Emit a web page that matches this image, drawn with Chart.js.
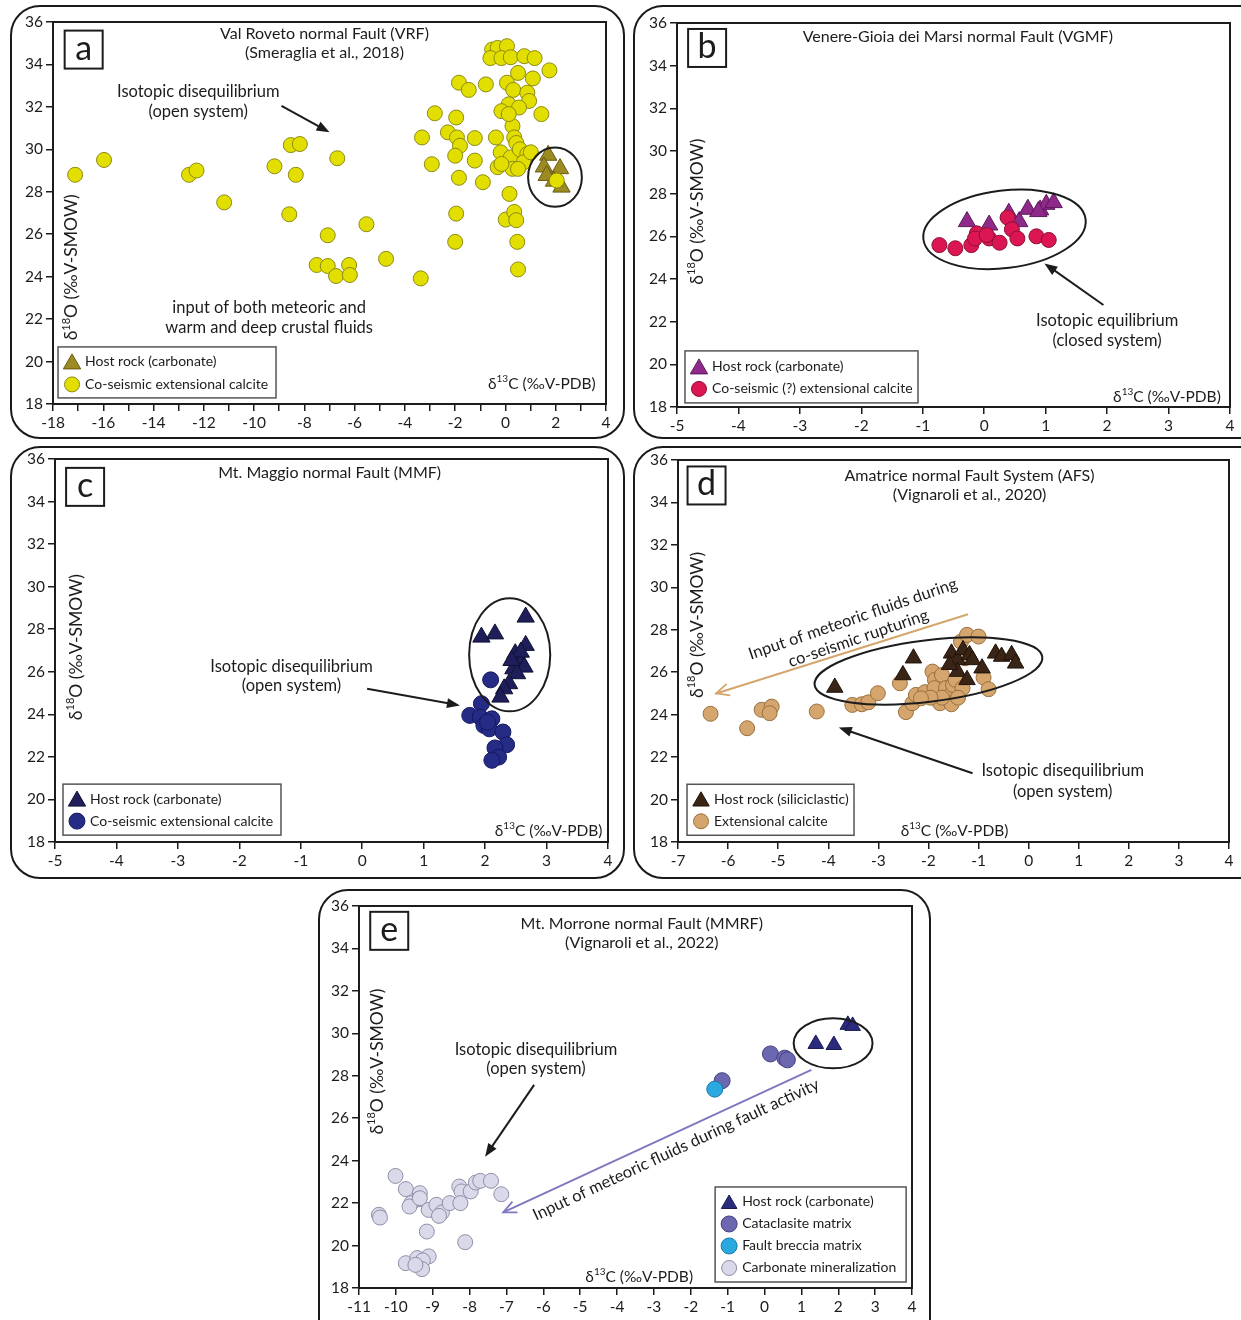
<!DOCTYPE html>
<html><head><meta charset="utf-8">
<script src="https://cdn.jsdelivr.net/npm/chart.js@4.4.1/dist/chart.umd.min.js"></script>
<style>
html,body{margin:0;padding:0;background:#fff;width:1241px;height:1320px;overflow:hidden;position:relative;}
.frame{position:absolute;border:2px solid #1a1a1a;border-radius:30px;box-sizing:border-box;}
canvas{position:absolute;}
</style></head><body>
<div class="frame" style="left:10px;top:5px;width:615px;height:434px"></div>
<div class="frame" style="left:633px;top:5px;width:640px;height:434px"></div>
<div class="frame" style="left:10px;top:446px;width:615px;height:433px"></div>
<div class="frame" style="left:633px;top:446px;width:640px;height:433px"></div>
<div class="frame" style="left:318px;top:889px;width:613px;height:470px"></div>
<canvas id="ca"></canvas><canvas id="cb"></canvas><canvas id="cc"></canvas><canvas id="cd"></canvas><canvas id="ce"></canvas>
<script>
// ---------------- DATA ----------------
const yLabels = [18,20,22,24,26,28,30,32,34,36];
const aXLabels = [-18,-16,-14,-12,-10,-8,-6,-4,-2,0,2,4];
const bXLabels = [-5,-4,-3,-2,-1,0,1,2,3,4];
const cXLabels = [-5,-4,-3,-2,-1,0,1,2,3,4];
const dXLabels = [-7,-6,-5,-4,-3,-2,-1,0,1,2,3,4];
const eXLabels = [-11,-10,-9,-8,-7,-6,-5,-4,-3,-2,-1,0,1,2,3,4];

// (a) Val Roveto
const aHost = [[1.70,29.72],[1.53,29.17],[1.64,28.77],[2.17,29.09],[2.23,28.22],[1.93,28.5]];
const aCalcite = [[-17.12,28.8],[-15.97,29.5],[-12.59,28.8],[-12.29,29.0],[-11.19,27.5],[-9.19,29.2],[-8.54,30.2],[-8.18,30.25],[-8.34,28.8],[-8.6,26.94],[-6.69,29.58],[-7.07,25.95],[-5.53,26.47],[-7.51,24.55],[-7.07,24.5],[-6.22,24.55],[-6.74,24.03],[-6.19,24.08],[-4.75,24.84],[-3.37,23.92],[-3.32,30.56],[-2.81,31.7],[-2.93,29.3],[-2.29,30.8],[-1.96,31.5],[-1.85,33.14],[-1.46,32.8],[-0.78,33.06],[-1.93,30.56],[-1.81,30.17],[-2.0,29.7],[-1.22,30.53],[-1.22,29.47],[-1.85,28.66],[-0.9,28.45],[-1.96,26.97],[-2.0,25.64],[-0.38,30.56],[-0.31,29.16],[-0.19,29.86],[0.16,27.9],[0.01,26.69],[0.35,27.05],[0.43,26.66],[0.47,25.64],[0.5,24.34],[-0.53,34.7],[-0.31,34.78],[0.06,34.86],[-0.6,34.3],[-0.16,34.3],[0.21,34.34],[0.75,34.39],[1.16,34.3],[1.75,33.72],[0.5,33.6],[0.06,33.14],[0.31,32.8],[1.09,33.34],[0.87,32.67],[0.94,32.28],[0.13,32.12],[0.54,31.97],[-0.16,31.8],[1.43,31.66],[0.28,31.1],[0.35,30.56],[0.43,30.3],[0.21,29.62],[0.57,30.0],[0.87,29.78],[0.72,29.39],[0.28,29.08],[-0.16,29.31],[0.5,29.08],[2.04,28.53],[0.13,31.66],[1.01,29.86]];

// (b) Venere-Gioia dei Marsi
const bHost = [[-0.28,26.69],[0.08,26.53],[0.40,27.08],[0.57,26.69],[0.71,27.27],[0.91,27.24],[1.01,27.5],[1.13,27.58],[0.88,27.16]];
const bCalcite = [[-0.73,25.59],[-0.47,25.44],[-0.21,25.59],[-0.12,26.14],[-0.15,25.9],[0.08,25.9],[0.25,25.7],[0.38,26.88],[0.45,26.33],[0.54,25.9],[0.85,26.0],[1.05,25.83],[0.04,26.06]];

// (c) Mt. Maggio
const cHost = [[1.94,27.63],[2.16,27.78],[2.66,28.57],[2.66,27.24],[2.49,26.85],[2.58,26.45],[2.46,26.14],[2.64,26.22],[2.52,25.91],[2.39,25.44],[2.31,25.2],[2.25,24.81],[2.58,26.92],[2.43,26.53]];
const cCalcite = [[2.09,25.62],[1.94,24.5],[1.75,23.95],[1.92,23.87],[2.11,23.79],[1.98,23.48],[2.07,23.32],[2.29,23.17],[2.35,22.57],[2.16,22.42],[2.22,21.99],[2.11,21.84],[2.04,23.63]];

// (d) Amatrice
const dHost = [[-3.87,25.28],[-2.51,25.87],[-2.3,26.66],[-1.54,26.89],[-1.42,26.58],[-1.31,27.05],[-1.18,26.82],[-1.12,26.58],[-1.42,26.03],[-1.23,25.64],[-0.93,26.19],[-0.66,26.89],[-0.54,26.74],[-0.34,26.82],[-0.26,26.42],[-1.58,26.35]];
const dCalcite = [[-6.35,24.04],[-5.62,23.36],[-5.33,24.23],[-5.13,24.38],[-5.17,24.07],[-4.23,24.15],[-3.52,24.46],[-3.33,24.49],[-3.2,24.58],[-3.01,25.01],[-2.57,25.48],[-2.45,24.12],[-2.32,24.54],[-2.25,24.93],[-2.07,25.06],[-1.92,26.03],[-1.87,25.64],[-1.88,25.25],[-1.73,25.87],[-1.77,24.54],[-1.65,25.25],[-1.56,24.93],[-1.54,24.49],[-1.51,25.4],[-1.46,25.64],[-1.35,27.44],[-1.23,27.76],[-1.0,27.68],[-1.32,25.25],[-1.41,24.8],[-1.73,24.8],[-0.9,25.75],[-0.8,25.2],[-1.27,26.66],[-1.96,24.8],[-2.15,24.77]];

// (e) Mt. Morrone
const eHost = [[1.39,29.5],[1.88,29.45],[2.26,30.4],[2.39,30.35]];
const eCataclasite = [[0.16,29.03],[0.55,28.83],[0.62,28.75],[-1.15,27.77]];
const eBreccia = [[-1.35,27.37]];
const eMineral = [[-10.46,21.45],[-10.43,21.32],[-10.01,23.28],[-9.73,22.66],[-9.35,22.47],[-9.39,22.18],[-9.58,22.0],[-9.63,21.84],[-9.35,22.23],[-9.11,21.68],[-8.9,21.92],[-8.75,21.56],[-8.83,21.4],[-9.16,20.66],[-8.54,22.0],[-8.28,22.78],[-8.22,22.55],[-8.25,22.0],[-7.97,22.55],[-7.83,22.97],[-7.71,23.05],[-7.42,23.05],[-7.14,22.42],[-8.12,20.16],[-9.73,19.17],[-9.42,19.41],[-9.11,19.49],[-9.27,19.3],[-9.29,18.89],[-9.47,19.09]];

// ---------------- RENDERING ----------------
const FONT = "Lato, 'Open Sans', sans-serif";
const INK = '#1c1c1c';
const toPts = a => a.map(p => ({x:p[0], y:p[1]}));

function richText(ctx, str, x, y, size, align) {
  const parts = []; const re = /\^\{([^}]*)\}/g; let last = 0, m;
  while ((m = re.exec(str))) { if (m.index > last) parts.push({t:str.slice(last, m.index), s:false}); parts.push({t:m[1], s:true}); last = re.lastIndex; }
  if (last < str.length) parts.push({t:str.slice(last), s:false});
  const fN = size + 'px ' + FONT, fS = Math.round(size*0.62) + 'px ' + FONT;
  let w = 0; parts.forEach(p => { ctx.font = p.s ? fS : fN; p.w = ctx.measureText(p.t).width; w += p.w; });
  let sx = align === 'center' ? x - w/2 : align === 'right' ? x - w : x;
  ctx.textAlign = 'left'; ctx.textBaseline = 'middle';
  parts.forEach(p => { ctx.font = p.s ? fS : fN; ctx.fillText(p.t, sx, p.s ? y - size*0.33 : y); sx += p.w; });
}
function marker(ctx, style, r, x, y, fill, stroke) {
  ctx.beginPath();
  if (style === 'triangle') {
    for (let i = 0; i < 3; i++) { const a = i*2*Math.PI/3; const px = x + Math.sin(a)*r, py = y - Math.cos(a)*r; i ? ctx.lineTo(px,py) : ctx.moveTo(px,py); }
    ctx.closePath();
  } else ctx.arc(x, y, r, 0, 2*Math.PI);
  ctx.fillStyle = fill; ctx.fill(); ctx.lineWidth = 1; ctx.strokeStyle = stroke; ctx.stroke();
}
function arrow(ctx, x1, y1, x2, y2, color, open) {
  const a = Math.atan2(y2-y1, x2-x1), L = 13, W = open ? 6 : 5;
  ctx.strokeStyle = color; ctx.fillStyle = color; ctx.lineWidth = 2;
  ctx.beginPath(); ctx.moveTo(x1, y1);
  ctx.lineTo(open ? x2 : x2 - L*0.7*Math.cos(a), open ? y2 : y2 - L*0.7*Math.sin(a)); ctx.stroke();
  const bx = x2 - L*Math.cos(a), by = y2 - L*Math.sin(a);
  ctx.beginPath(); ctx.moveTo(bx + W*Math.sin(a), by - W*Math.cos(a)); ctx.lineTo(x2, y2); ctx.lineTo(bx - W*Math.sin(a), by + W*Math.cos(a));
  if (open) { ctx.lineWidth = 1.8; ctx.stroke(); } else { ctx.closePath(); ctx.fill(); }
}
function decorPlugin(d) {
  return {
    id: 'decor',
    afterDraw(chart) {
      const ctx = chart.ctx, ca = chart.chartArea;
      const X = v => chart.scales.x.getPixelForValue(v), Y = v => chart.scales.y.getPixelForValue(v);
      const ux = X(1) - X(0), uy = Y(0) - Y(1);
      ctx.save();
      ctx.strokeStyle = INK; ctx.lineWidth = 2;
      ctx.beginPath(); ctx.moveTo(ca.left - 1, ca.top); ctx.lineTo(ca.right, ca.top); ctx.lineTo(ca.right, ca.bottom + 1); ctx.stroke();
      (d.ellipses || []).forEach(e => {
        ctx.beginPath(); ctx.ellipse(X(e.x), Y(e.y), e.rx*ux, e.ry*uy, (e.rot||0)*Math.PI/180, 0, 2*Math.PI);
        ctx.lineWidth = 2; ctx.strokeStyle = INK; ctx.stroke();
      });
      (d.arrows || []).forEach(r => arrow(ctx, X(r.from[0]), Y(r.from[1]), X(r.to[0]), Y(r.to[1]), r.color || INK, r.open));
      ctx.fillStyle = INK;
      (d.texts || []).forEach(t => {
        ctx.save(); ctx.fillStyle = t.color || INK;
        ctx.translate(X(t.x), Y(t.y)); ctx.rotate((t.rot||0)*Math.PI/180);
        richText(ctx, t.text, 0, 0, t.size || 16.5, t.align || 'center');
        ctx.restore();
      });
      const L = d.letter; const lx = X(L.x), ly = Y(L.y);
      ctx.fillStyle = '#fff'; ctx.fillRect(lx-19, ly-19, 38, 38);
      ctx.strokeStyle = INK; ctx.lineWidth = 2; ctx.strokeRect(lx-19, ly-19, 38, 38);
      ctx.fillStyle = INK; ctx.font = '34px ' + FONT; ctx.textAlign = 'center'; ctx.textBaseline = 'middle';
      ctx.fillText(L.text, lx, ly - 1);
      const g = d.legend; const gx = X(g.x), gy = Y(g.y);
      ctx.fillStyle = '#fff'; ctx.fillRect(gx, gy, g.w, g.h);
      ctx.strokeStyle = '#555'; ctx.lineWidth = 1.5; ctx.strokeRect(gx, gy, g.w, g.h);
      g.items.forEach((it, i) => {
        const ds = chart.data.datasets[it.ds]; const cy = gy + g.row0 + i*g.dy;
        marker(ctx, ds.pointStyle, ds.pointRadius, gx + 14, cy + (ds.pointStyle === 'triangle' ? 2 : 0), ds.backgroundColor, ds.borderColor);
        ctx.fillStyle = INK; richText(ctx, ds.label, gx + 27, cy, 14, 'left');
      });
      ctx.restore();
    }
  };
}
function makeChart(id, canvas, plot, xMin, xMax, xLabels, datasets, deco) {
  const el = document.getElementById(id);
  el.width = canvas.w; el.height = canvas.h;
  el.style.left = canvas.l + 'px'; el.style.top = canvas.t + 'px';
  const yW = plot.l - canvas.l, xH = canvas.t + canvas.h - plot.b;
  const axisCommon = {
    grid: {drawOnChartArea:false, drawTicks:true, tickLength:7, color:INK, lineWidth:1.5},
    border: {display:true, color:INK, width:2}
  };
  return new Chart(el, {
    type: 'scatter',
    data: {datasets},
    options: {
      responsive:false, animation:false, events:[],
      layout: {autoPadding:false, padding:{left:0, top:plot.t - canvas.t, right:canvas.l + canvas.w - plot.r, bottom:0}},
      plugins: {legend:{display:false}, tooltip:{enabled:false}},
      scales: {
        x: Object.assign({type:'linear', min:xMin, max:xMax, afterFit(s){ s.height = xH; },
          ticks:{stepSize:1, autoSkip:false, maxRotation:0, color:INK, font:{family:FONT, size:15.5}, padding:3,
                 callback: v => xLabels.includes(v) ? String(v) : ''}}, axisCommon),
        y: Object.assign({type:'linear', min:18, max:36, afterFit(s){ s.width = yW; },
          ticks:{stepSize:2, autoSkip:false, color:INK, font:{family:FONT, size:15.5}, padding:3,
                 callback: v => yLabels.includes(v) ? String(v) : ''}}, axisCommon)
      }
    },
    plugins: [decorPlugin(deco)]
  });
}
function ds(label, pts, style, r, fill, stroke, order) {
  return {label, data:toPts(pts), pointStyle:style, pointRadius:r, backgroundColor:fill, borderColor:stroke, borderWidth:1, order, clip:false};
}
const YT = 'δ^{18}O (‰V-SMOW)', XT = 'δ^{13}C (‰V-PDB)';
const TS = 16; // title size

// (a)
makeChart('ca', {l:10, t:5, w:614, h:433}, {l:53, t:22, r:606, b:404}, -18, 4, aXLabels, [
  ds('Host rock (carbonate)', aHost, 'triangle', 10, '#9c8a22', '#6a5a10', 1),
  ds('Co-seismic extensional calcite', aCalcite, 'circle', 7.5, '#e2df00', '#8c8a14', 0)
], {
  letter:{x:-16.78, y:34.7, text:'a'},
  texts:[
    {x:-7.2, y:35.44, text:'Val Roveto normal Fault (VRF)', size:TS},
    {x:-7.2, y:34.55, text:'(Smeraglia et al., 2018)', size:TS},
    {x:-12.22, y:32.7, text:'Isotopic disequilibrium'},
    {x:-12.22, y:31.78, text:'(open system)'},
    {x:-9.4, y:22.56, text:'input of both meteoric and'},
    {x:-9.4, y:21.58, text:'warm and deep crustal fluids'},
    {x:-17.25, y:24.44, text:YT, rot:-90, size:17.5},
    {x:3.59, y:18.95, text:XT, align:'right', size:15.5}
  ],
  arrows:[{from:[-8.91,32.05], to:[-7.0,30.8]}],
  ellipses:[{x:1.97, y:28.69, rx:1.07, ry:1.4}],
  legend:{x:-17.8, y:20.69, w:218, h:51, row0:15, dy:22.5, items:[{ds:0},{ds:1}]}
});

// (b)
makeChart('cb', {l:633, t:5, w:608, h:433}, {l:677, t:23, r:1230, b:407}, -5, 4, bXLabels, [
  ds('Host rock (carbonate)', bHost, 'triangle', 10, '#8f2a8a', '#5a1a5a', 1),
  ds('Co-seismic (?) extensional calcite', bCalcite, 'circle', 7.5, '#dc1653', '#8c1035', 0)
], {
  letter:{x:-4.51, y:34.83, text:'b'},
  texts:[
    {x:-0.43, y:35.37, text:'Venere-Gioia dei Marsi normal Fault (VGMF)', size:TS},
    {x:2.0, y:22.07, text:'Isotopic equilibrium'},
    {x:2.0, y:21.13, text:'(closed system)'},
    {x:-4.67, y:27.16, text:YT, rot:-90, size:17.5},
    {x:3.85, y:18.47, text:XT, align:'right', size:15.5}
  ],
  arrows:[{from:[1.94,22.78], to:[0.98,24.73]}],
  ellipses:[{x:0.33, y:26.33, rx:1.33, ry:1.82, rot:-7}],
  legend:{x:-4.87, y:20.63, w:233, h:52, row0:16, dy:22, items:[{ds:0},{ds:1}]}
});

// (c)
makeChart('cc', {l:10, t:446, w:614, h:432}, {l:55, t:459, r:608, b:842}, -5, 4, cXLabels, [
  ds('Host rock (carbonate)', cHost, 'triangle', 10, '#1e1e5a', '#111133', 1),
  ds('Co-seismic extensional calcite', cCalcite, 'circle', 8, '#262b86', '#151860', 0)
], {
  letter:{x:-4.51, y:34.69, text:'c'},
  texts:[
    {x:-0.53, y:35.37, text:'Mt. Maggio normal Fault (MMF)', size:TS},
    {x:-1.15, y:26.22, text:'Isotopic disequilibrium'},
    {x:-1.15, y:25.33, text:'(open system)'},
    {x:-4.65, y:27.16, text:YT, rot:-90, size:17.5},
    {x:3.91, y:18.5, text:XT, align:'right', size:15.5}
  ],
  arrows:[{from:[0.08,25.2], to:[1.59,24.42]}],
  ellipses:[{x:2.4, y:26.8, rx:0.66, ry:2.66}],
  legend:{x:-4.87, y:20.72, w:218, h:51, row0:15, dy:22, items:[{ds:0},{ds:1}]}
});

// (d)
makeChart('cd', {l:633, t:446, w:608, h:432}, {l:678, t:460, r:1229, b:842}, -7, 4, dXLabels, [
  ds('Host rock (siliciclastic)', dHost, 'triangle', 9.5, '#3a2415', '#20130a', 0),
  ds('Extensional calcite', dCalcite, 'circle', 7.5, '#d4a56c', '#9a7040', 1)
], {
  letter:{x:-6.43, y:34.8, text:'d'},
  texts:[
    {x:-1.18, y:35.26, text:'Amatrice normal Fault System (AFS)', size:TS},
    {x:-1.18, y:34.35, text:'(Vignaroli et al., 2020)', size:TS},
    {x:-3.51, y:28.51, text:'Input of meteoric fluids during', rot:-19},
    {x:-3.40, y:27.6, text:'co-seismic rupturing', rot:-19},
    {x:0.68, y:21.35, text:'Isotopic disequilibrium'},
    {x:0.68, y:20.35, text:'(open system)'},
    {x:-6.62, y:28.23, text:YT, rot:-90, size:17.5},
    {x:-1.48, y:18.5, text:XT, size:15.5}
  ],
  arrows:[{from:[-1.21,28.73], to:[-6.24,25.0], color:'#d4a56c', open:true},
          {from:[-1.12,21.24], to:[-3.79,23.39]}],
  ellipses:[{x:-2.0, y:26.06, rx:2.29, ry:1.45, rot:-7}],
  legend:{x:-6.82, y:20.72, w:167, h:51, row0:15, dy:22, items:[{ds:0},{ds:1}]}
});

// (e)
makeChart('ce', {l:318, t:889, w:612, h:431}, {l:359, t:906, r:912, b:1288}, -11, 4, eXLabels, [
  ds('Host rock (carbonate)', eHost, 'triangle', 9, '#2b2b7e', '#181850', 3),
  ds('Cataclasite matrix', eCataclasite, 'circle', 8, '#6c68b0', '#454080', 2),
  ds('Fault breccia matrix', eBreccia, 'circle', 8, '#29a9e0', '#1a7aa8', 0),
  ds('Carbonate mineralization', eMineral, 'circle', 7.5, '#d9d9ea', '#8e8ea8', 1)
], {
  letter:{x:-10.18, y:34.83, text:'e'},
  texts:[
    {x:-3.33, y:35.18, text:'Mt. Morrone normal Fault (MMRF)', size:TS},
    {x:-3.33, y:34.27, text:'(Vignaroli et al., 2022)', size:TS},
    {x:-6.2, y:29.25, text:'Isotopic disequilibrium'},
    {x:-6.2, y:28.35, text:'(open system)'},
    {x:-2.40, y:24.52, text:'Input of meteoric fluids during fault activity', rot:-25},
    {x:-10.51, y:28.67, text:YT, rot:-90, size:17.5},
    {x:-3.4, y:18.54, text:XT, size:15.5}
  ],
  arrows:[{from:[1.27,28.28], to:[-7.09,21.56], color:'#7e78c0', open:true},
          {from:[-6.25,27.57], to:[-7.58,24.19]}],
  ellipses:[{x:1.86, y:29.53, rx:1.07, ry:1.18}],
  legend:{x:-1.34, y:22.76, w:191, h:95, row0:15, dy:22, items:[{ds:0},{ds:1},{ds:2},{ds:3}]}
});
</script>
</body></html>
